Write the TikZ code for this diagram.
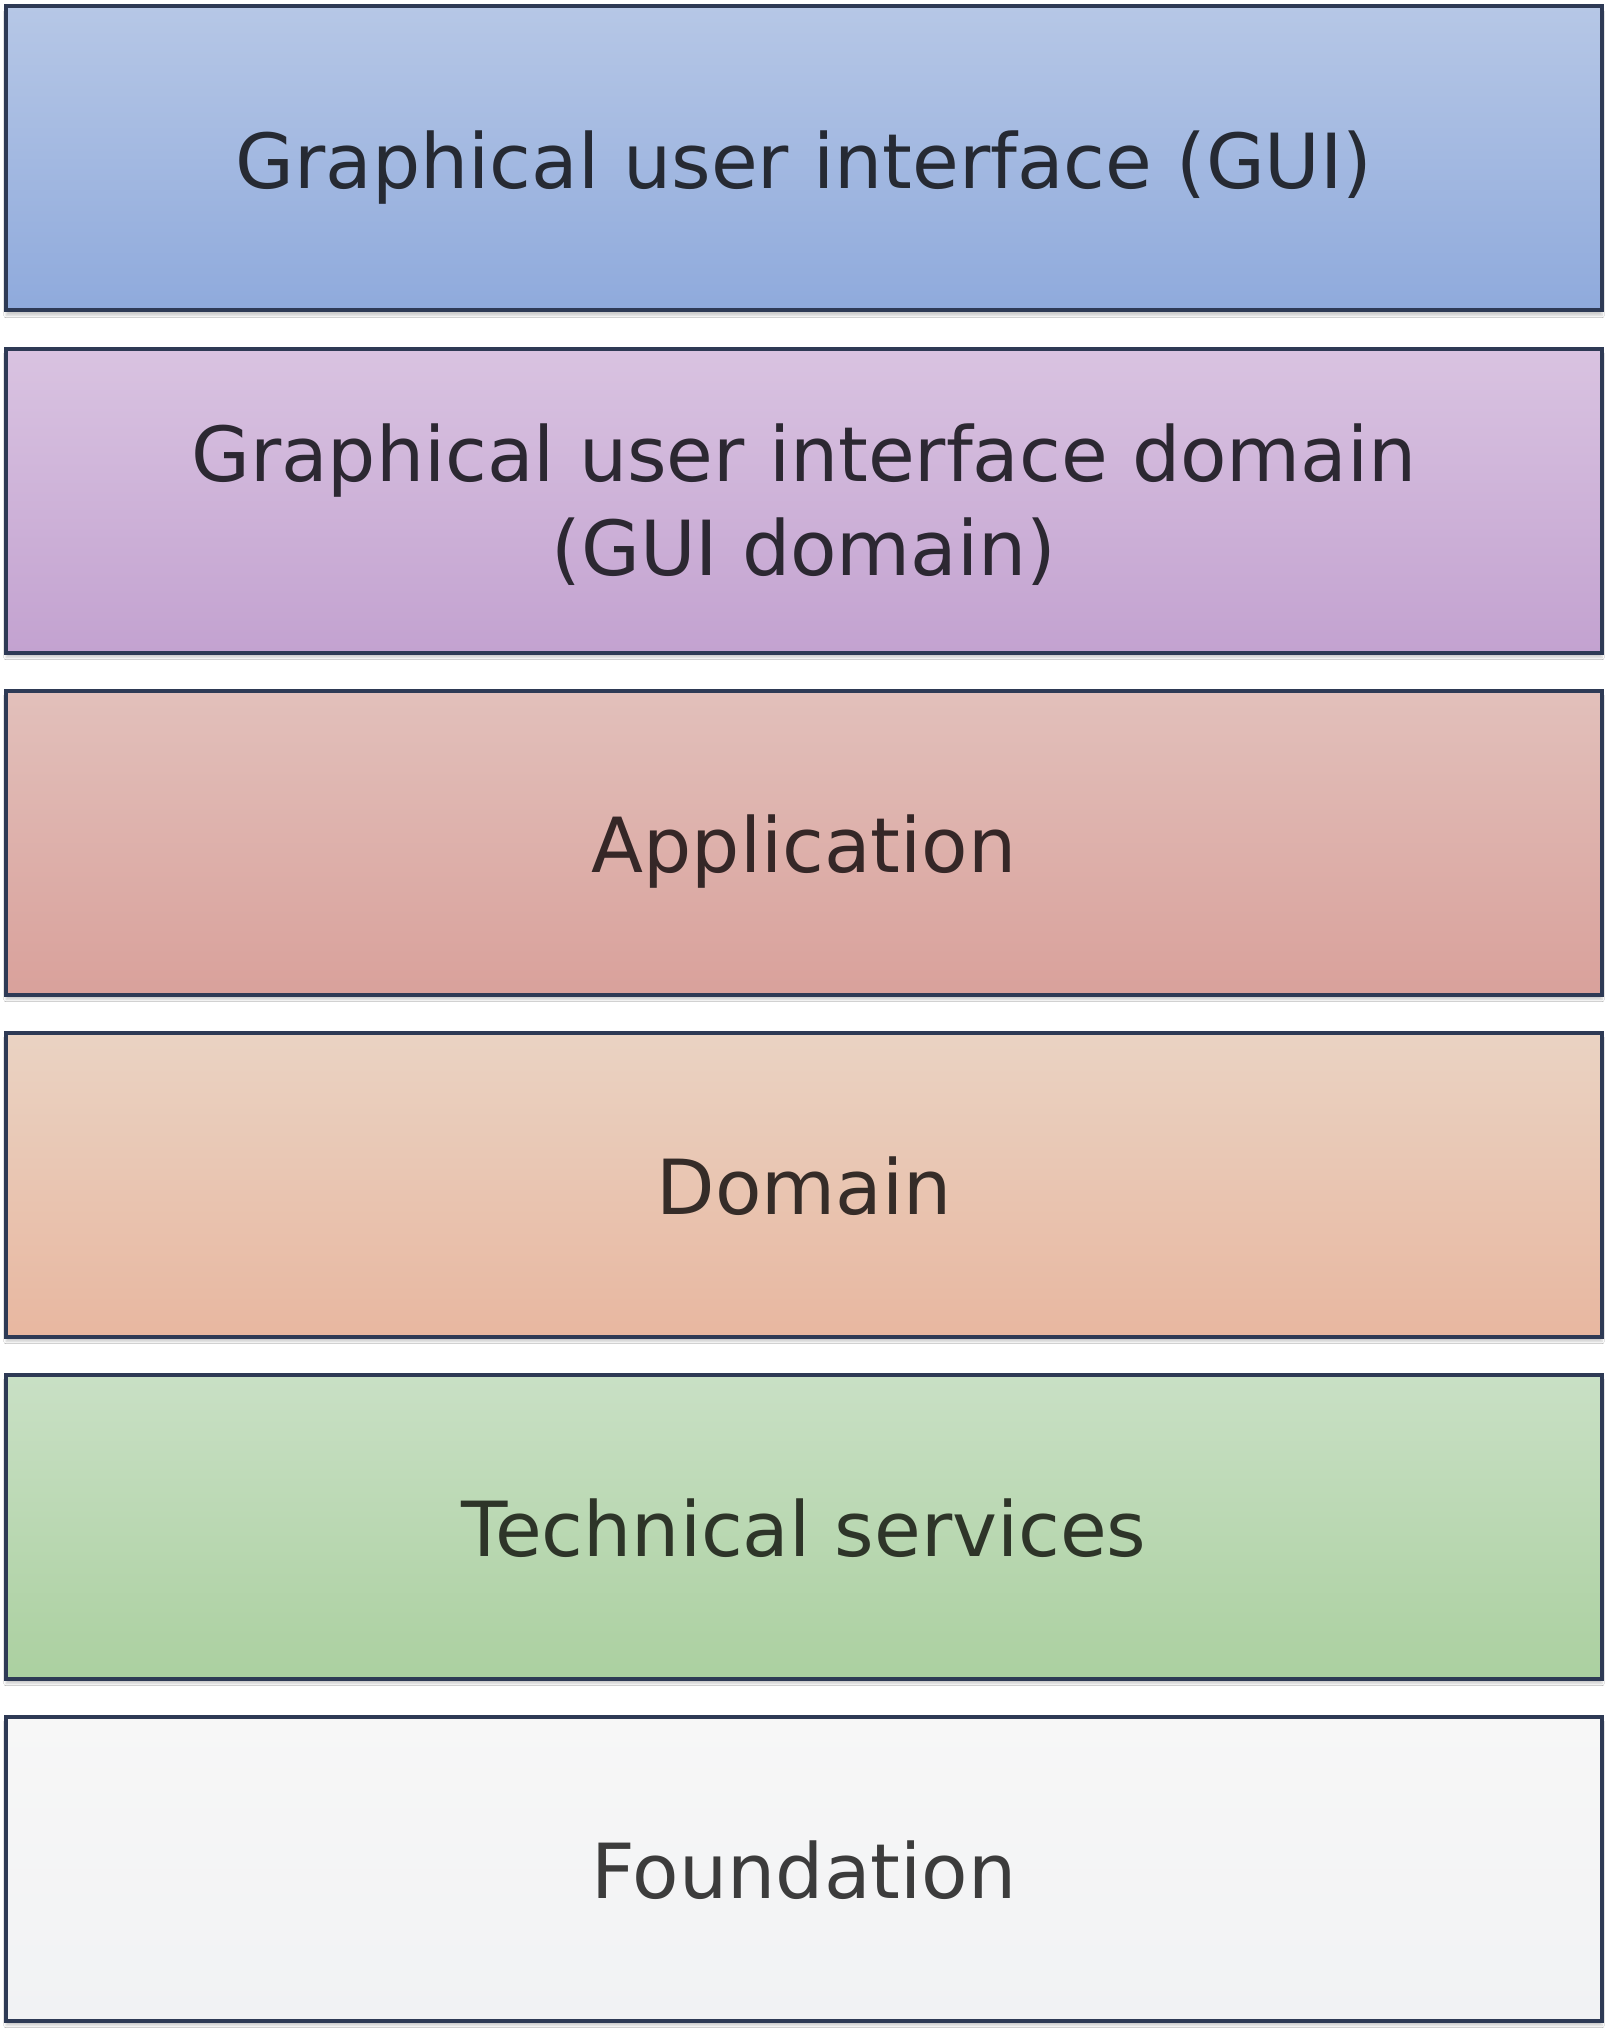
\documentclass[tikz,border=0pt]{standalone}
\usepackage{fontspec}
\setmainfont{DejaVu Sans}
\usetikzlibrary{positioning,shadows.blur}

\definecolor{edge}{HTML}{2E3A55}

\tikzset{
  layer/.style={draw=edge, line width=4pt, rectangle, align=center,
    minimum width=1596pt, minimum height=304pt, inner sep=0pt,
    font=\fontsize{76}{94}\selectfont,
    blur shadow={shadow xshift=0pt, shadow yshift=-5pt, shadow blur steps=6, shadow opacity=20}},
  oneline/.style={text height=60pt, text depth=0pt},
}

\begin{document}
\begin{tikzpicture}[x=1pt, y=-1pt, node distance=34pt]
    \useasboundingbox[fill=white] (0,0) rectangle (1608,2033);
    \node[layer, oneline, text={rgb,255:red,38;green,42;blue,51}, top color={rgb,255:red,182;green,199;blue,230}, bottom color={rgb,255:red,143;green,170;blue,220}] (gui) at (804,158.5) {Graphical user interface (GUI)};
    \node[layer, text={rgb,255:red,44;green,40;blue,50}, top color={rgb,255:red,217;green,195;blue,225}, bottom color={rgb,255:red,195;green,162;blue,208}, below=of gui] (guidomain) {\rule{0pt}{66pt}Graphical user interface domain\\(GUI domain)};
    \node[layer, oneline, text={rgb,255:red,53;green,39;blue,39}, top color={rgb,255:red,226;green,192;blue,187}, bottom color={rgb,255:red,217;green,161;blue,155}, below=of guidomain] (app) {Application};
    \node[layer, oneline, text={rgb,255:red,53;green,44;blue,40}, top color={rgb,255:red,234;green,211;blue,195}, bottom color={rgb,255:red,232;green,183;blue,160}, below=of app] (domain) {Domain};
    \node[layer, oneline, text={rgb,255:red,46;green,53;blue,41}, top color={rgb,255:red,201;green,224;blue,197}, bottom color={rgb,255:red,171;green,208;blue,160}, below=of domain] (tech) {Technical services};
    \node[layer, oneline, text={rgb,255:red,60;green,60;blue,60}, top color={rgb,255:red,247;green,247;blue,247}, bottom color={rgb,255:red,241;green,242;blue,244}, below=of tech] (found) {Foundation};
\end{tikzpicture}
\end{document}
